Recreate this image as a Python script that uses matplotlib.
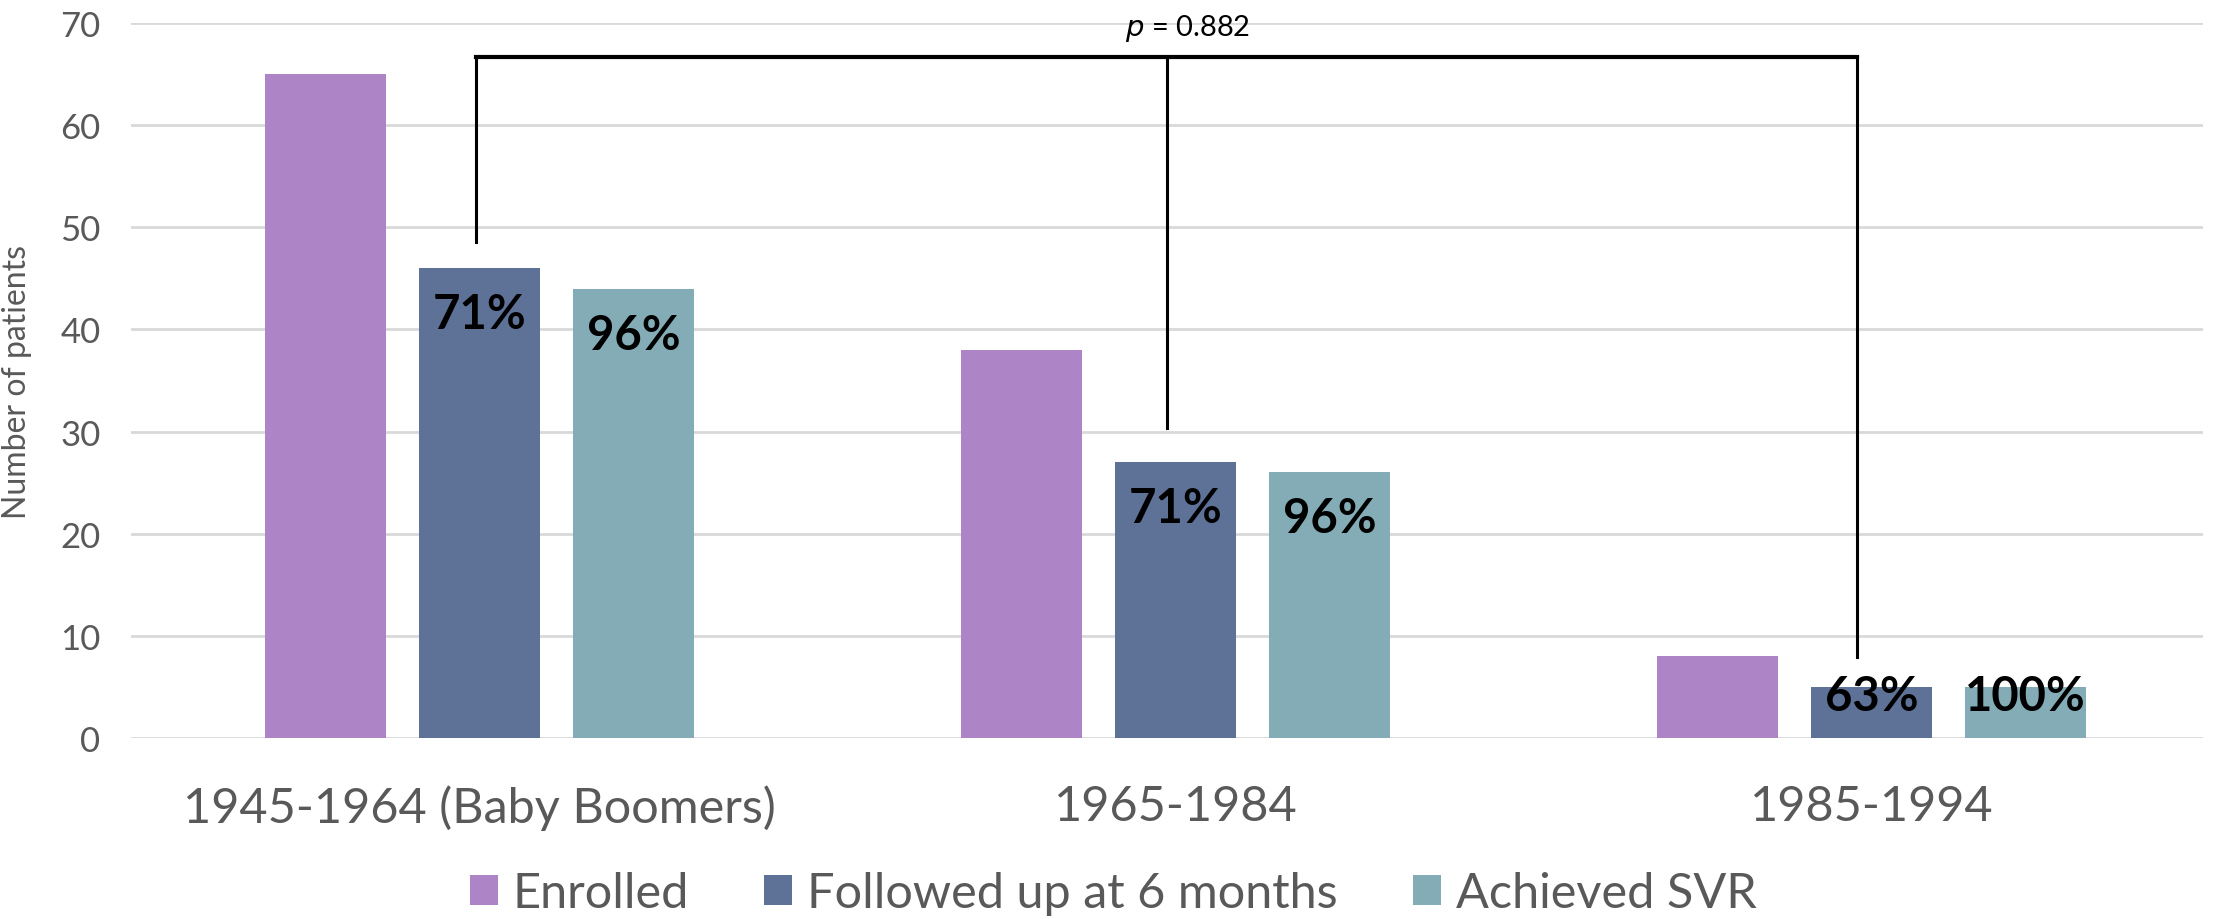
import numpy as np
import matplotlib.pyplot as plt
from matplotlib.patches import Patch

plt.rcParams['font.family'] = ['Lato', 'DejaVu Sans']

# cohorts and bar values
cohorts = ['1945-1964 (Baby Boomers)', '1965-1984', '1985-1994']
enrolled = [65, 38, 8]
followed = [46, 27, 5]
svr = [44, 26, 5]
followed_pct = ['71%', '71%', '63%']
svr_pct = ['96%', '96%', '100%']
p_text = '= 0.882'

series = ['Enrolled', 'Followed up at 6 months', 'Achieved SVR']
colors = ['#AD84C6', '#5E7298', '#84ACB6']

fig = plt.figure(figsize=(22.13, 9.2), dpi=100)
ax = fig.add_axes([0.0592, 0.1967, 0.9363, 0.7772])

x = np.arange(len(cohorts))
w = 0.174
step = 0.221

for i, (vals, c) in enumerate(zip([enrolled, followed, svr], colors)):
    ax.bar(x + (i - 1) * step, vals, w, color=c, zorder=2)

# percentage labels sit inside the top of the bars
for xi, v, t in zip(x, followed, followed_pct):
    ax.text(xi, max(v - 4.5, 4.1), t, ha='center', va='center',
            fontsize=34, fontweight='bold', color='black', zorder=3)
for xi, v, t in zip(x + step, svr, svr_pct):
    ax.text(xi, max(v - 4.5, 4.1), t, ha='center', va='center',
            fontsize=34, fontweight='bold', color='black', zorder=3)

# significance bracket over the follow-up bars
top = 66.7
ends = [48.6, 30.4, 7.9]
bx = x + np.array([-0.005, -0.012, -0.021])
ax.plot([bx[0], bx[-1]], [top, top], color='black', lw=3, clip_on=False, zorder=4)
for xi, e in zip(bx, ends):
    ax.plot([xi, xi], [top, e], color='black', lw=2.2, clip_on=False, zorder=4)
ax.text(1.017, 69.6, '$p$ ' + p_text, ha='center', va='center', fontsize=21,
        color='black', zorder=4)

ax.set_xlim(-0.5007, 2.476)
ax.set_ylim(0, 70)
ax.set_yticks(range(0, 71, 10))
ax.set_xticks(x)
ax.set_xticklabels(cohorts)
ax.tick_params(axis='y', length=0, pad=22, labelsize=25, labelcolor='#595959')
ax.tick_params(axis='x', length=0, pad=33, labelsize=35, labelcolor='#595959')
ax.grid(axis='y', color='#D9D9D9', lw=2, zorder=0)
for s in ax.spines.values():
    s.set_visible(False)

ax.set_ylabel('Number of patients', fontsize=23, color='#595959')
ax.yaxis.set_label_coords(-0.048, 0.5)

handles = [Patch(facecolor=c, label=s) for c, s in zip(colors, series)]
fig.legend(handles=handles, loc='center', bbox_to_anchor=(0.503, 0.028), ncol=3,
           frameon=False, fontsize=35, labelcolor='#595959', handlelength=0.58,
           handleheight=0.58, handletextpad=0.3, columnspacing=1.55)

plt.savefig('out.png', dpi=100)
